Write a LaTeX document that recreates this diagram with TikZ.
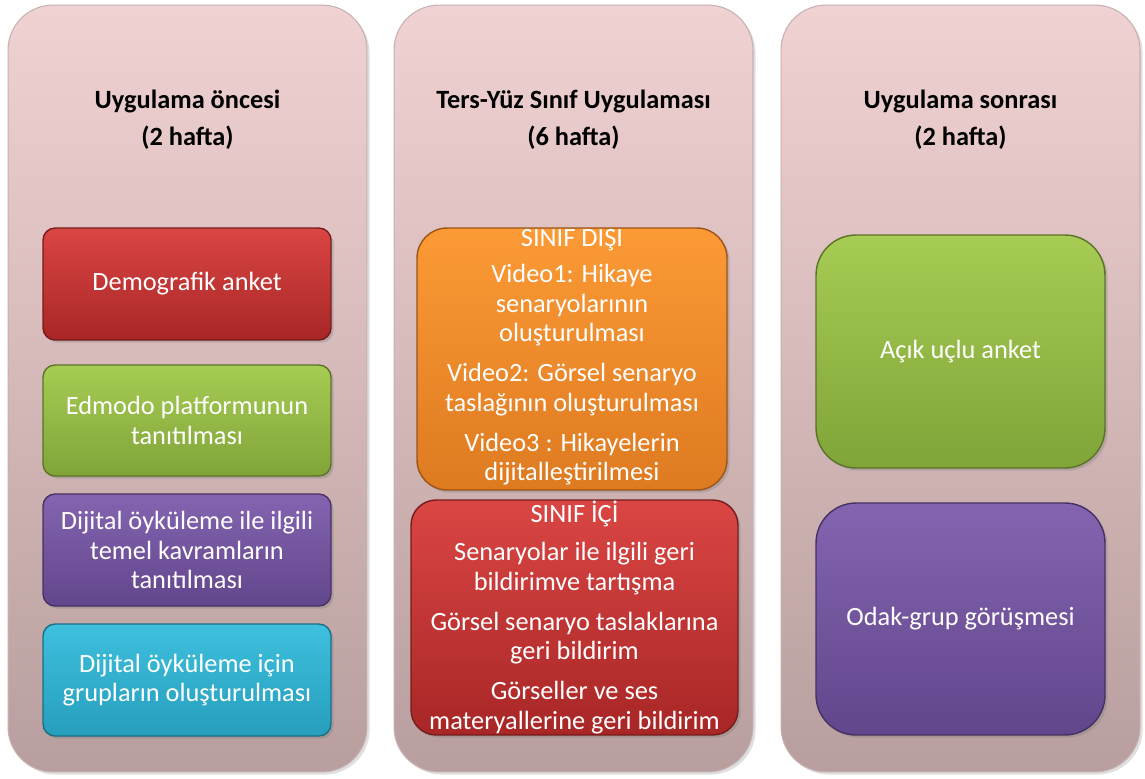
\documentclass[tikz,border=0pt]{standalone}
\usepackage{fontspec}
\setmainfont{Carlito}
\usetikzlibrary{positioning,shadows}
\definecolor{phasetop}{RGB}{241,210,210}
\definecolor{phasebot}{RGB}{184,158,158}
\definecolor{redtop}{RGB}{218,70,68}
\definecolor{redbot}{RGB}{168,38,38}
\definecolor{greentop}{RGB}{166,204,84}
\definecolor{greenbot}{RGB}{128,164,56}
\definecolor{purpletop}{RGB}{132,100,176}
\definecolor{purplebot}{RGB}{98,70,140}
\definecolor{cyantop}{RGB}{62,192,222}
\definecolor{cyanbot}{RGB}{38,158,188}
\definecolor{orangetop}{RGB}{252,154,54}
\definecolor{orangebot}{RGB}{222,122,32}
\tikzset{
  phasebox/.style={rounded corners=0.9cm, top color=phasetop, bottom color=phasebot, draw=phasebot!80!white, line width=0.6pt, minimum width=7.18cm, minimum height=15.34cm, drop shadow={opacity=0.25, shadow xshift=1.5pt, shadow yshift=-1.5pt}},
  headnode/.style={font=\fontsize{15}{17}\selectfont\bfseries, align=center},
  stepnode/.style={rounded corners=0.24cm, line width=0.8pt, minimum width=5.76cm, minimum height=2.24cm, align=center, text=white, font=\fontsize{15}{16.8}\selectfont, inner sep=1pt, drop shadow={opacity=0.35, shadow xshift=1.5pt, shadow yshift=-1.5pt}},
  steptext/.style={align=center, text=white, font=\fontsize{15}{16.8}\selectfont, inner sep=0pt},
  redstep/.style={stepnode, top color=redtop, bottom color=redbot, draw=redbot!70!black},
  greenstep/.style={stepnode, top color=greentop, bottom color=greenbot, draw=greenbot!70!black},
  purplestep/.style={stepnode, top color=purpletop, bottom color=purplebot, draw=purplebot!70!black},
  cyanstep/.style={stepnode, top color=cyantop, bottom color=cyanbot, draw=cyanbot!70!black},
  orangestep/.style={stepnode, top color=orangetop, bottom color=orangebot, draw=orangebot!70!black}
}
\begin{document}
\begin{tikzpicture}[x=0.02cm, y=-0.02cm]
  \useasboundingbox (0,0) rectangle (1145,778);
  \node[phasebox] (before) at (187.5,388.5) {};
  \node[phasebox] (flipped) at (573.5,388.5) {};
  \node[phasebox] (after) at (960.5,388.5) {};
  \node[headnode] (hbefore) at (187.5,120) {Uygulama öncesi\\[4pt](2 hafta)};
  \node[headnode] (hflipped) at (573.5,120) {Ters-Yüz Sınıf Uygulaması\\[4pt](6 hafta)};
  \node[headnode] (hafter) at (960.5,120) {Uygulama sonrası\\[4pt](2 hafta)};

  \node[redstep] (demo) at (187,284) {Demografik anket};
  \node[greenstep, minimum height=2.22cm] (edmodo) at (187,420.5) {Edmodo platformunun\\tanıtılması};
  \node[purplestep] (concepts) at (187,550) {Dijital öyküleme ile ilgili\\temel kavramların\\tanıtılması};
  \node[cyanstep] (groups) at (187,680) {Dijital öyküleme için\\grupların oluşturulması};

  \node[orangestep, rounded corners=0.6cm, minimum width=6.2cm, minimum height=5.24cm] (outside) at (572,359) {};
  \node[steptext] (toutside) at ([yshift=1pt]outside.center) {SINIF DIŞI\\[4pt]Video1: Hikaye\\senaryolarının\\oluşturulması\\[6pt]Video2: Görsel senaryo\\taslağının oluşturulması\\[6pt]Video3 : Hikayelerin\\dijitalleştirilmesi};
  \node[redstep, rounded corners=0.5cm, minimum width=6.54cm, minimum height=4.7cm] (inside) at (574.5,617.5) {};
  \node[steptext] (tinside) at ([yshift=0pt]inside.center) {SINIF İÇİ\\[5pt]Senaryolar ile ilgili geri\\bildirimve tartışma\\[6pt]Görsel senaryo taslaklarına\\geri bildirim\\[6pt]Görseller ve ses\\materyallerine geri bildirim};

  \node[greenstep, rounded corners=0.8cm, minimum width=5.78cm, minimum height=4.66cm] (openq) at (960.5,351.5) {Açık uçlu anket};
  \node[purplestep, rounded corners=0.8cm, minimum width=5.78cm, minimum height=4.64cm] (focus) at (960.5,619) {Odak-grup görüşmesi};
\end{tikzpicture}
\end{document}
